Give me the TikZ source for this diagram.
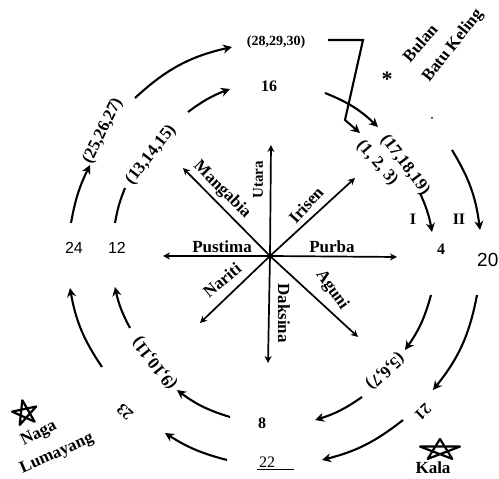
\documentclass[tikz,border=0pt]{standalone}
\usepackage{fontspec}
\setmainfont{Liberation Serif}
\newfontfamily\arialf{Liberation Sans}
\usetikzlibrary{arrows.meta}
\begin{document}
\begin{tikzpicture}[x=1pt,y=1pt,
  ring/.style={line width=2.1pt, -{Stealth[length=9pt,width=9pt]}},
  ringplain/.style={line width=2.1pt},
  dirarrow/.style={line width=1.7pt, -{Stealth[length=7pt,width=7pt]}},
  lab/.style={font=\fontsize{17}{17}\selectfont\bfseries, inner sep=0pt},
  num/.style={font=\fontsize{16}{16}\selectfont\bfseries, inner sep=0pt},
  trip/.style={font=\fontsize{17}{17}\selectfont\bfseries, inner sep=0pt},
  sansnum/.style={font=\fontsize{16}{16}\selectfont\arialf, inner sep=0pt},
  starline/.style={line width=2.2pt, line join=round},
]
\fill[white] (0,0) rectangle (499,479);
\useasboundingbox (0,0) rectangle (499,479);

% ---------- compass ----------
\coordinate (O) at (270,223);
\coordinate (N) at (271,334);
\coordinate (S) at (268,116);
\coordinate (E) at (397,222);
\coordinate (W) at (163,223);
\coordinate (NE) at (355,301);
\coordinate (NW) at (183,311);
\coordinate (SW) at (200,156);
\coordinate (SE) at (358,142);
\foreach \t in {N,S,E,W,NE,NW,SW,SE} \draw[dirarrow] (O) -- (\t);

\node[lab, font=\fontsize{15}{15}\selectfont\bfseries, rotate=90] (utara) at (258,299) {Utara};
\node[lab, rotate=-45] (mangabia) at (222,289) {Mangabia};
\node[lab, rotate=48] (irisen) at (306,274) {Irisen};
\node[lab] (pustima) at (222,232) {Pustima};
\node[lab] (purba) at (332,232) {Purba};
\node[lab, rotate=40] (nariti) at (222,199) {Nariti};
\node[lab, rotate=-90] (daksina) at (284,166) {Daksina};
\node[lab, rotate=-55] (aguni) at (332,189) {Aguni};

% ---------- ring labels ----------
\node[num, font=\fontsize{14}{14}\selectfont\bfseries] (t28) at (276,437) {(28,29,30)};
\node[num] (n16) at (269,393) {16};
\node[trip, rotate=52] (t13) at (151,324) {(13,14,15)};
\node[trip, rotate=64] (t25) at (103,348) {(25,26,27)};
\node[sansnum] (n24) at (74,231) {24};
\node[sansnum] (n12) at (117,231) {12};
\node[font=\fontsize{19}{19}\selectfont\arialf, inner sep=0pt, anchor=west] (n20) at (477,219) {20};
\node[num] (n4) at (441,230) {4};
\node[num] (rI) at (413,260) {I};
\node[num] (rII) at (459,260) {II};
\node[trip, rotate=-53] (t17) at (405,314) {(17,18,19)};
\node[trip, rotate=-49] (t1) at (377,316) {(1, 2, 3)};
\node[trip, rotate=-138] (t5) at (385,108) {(5,6,7)};
\node[num] (n8) at (262,56) {8};
\node[font=\fontsize{16}{16}\selectfont, inner sep=0pt] (n22) at (267,17) {22};
\draw[line width=1pt] ([xshift=-2pt,yshift=-2pt]n22.south west) -- ++(37,0);
\node[num, rotate=-136] (n21) at (423,67) {21};
\node[trip, rotate=128] (t9) at (155,116) {(9,10,11)};
\node[num, rotate=136] (n23) at (125,67) {23};

% ---------- side notes ----------
\node[lab, rotate=27] (naga) at (39,45) {Naga};
\node[lab, rotate=24] (lumayang) at (57,25) {Lumayang};
\draw[starline, shift={(25,66)}, rotate=12] (90:13) -- (234:13) -- (18:13) -- (162:13) -- (306:13) -- cycle;
\draw[starline, shift={(440,29)}, xscale=1.9] (90:11) -- (234:11) -- (18:11) -- (162:11) -- (306:11) -- cycle;
\node[lab] (kala) at (433,11) {Kala};
\node[font=\fontsize{22}{22}\selectfont\bfseries, inner sep=0pt] (ast) at (387,400) {*};
\node[lab, rotate=49] (bulan) at (420,436) {Bulan};
\node[lab, rotate=52] (batu) at (453,433) {Batu Keling};
\fill (432,361) circle (1pt);

% ---------- inner ring ----------
\coordinate (a1s) at (115,256); \coordinate (a1e) at (125,291);
\coordinate (a2s) at (188,367); \coordinate (a2e) at (230,390);
\coordinate (a3s) at (325,386); \coordinate (a3e) at (378,352);
\coordinate (a4s) at (420,286); \coordinate (a4e) at (432,247);
\coordinate (a5s) at (431,184); \coordinate (a5e) at (405,129);
\coordinate (a6s) at (362,82);  \coordinate (a6e) at (315,59);
\coordinate (a7s) at (230,62);  \coordinate (a7e) at (177,89);
\coordinate (a8s) at (130,151); \coordinate (a8e) at (115,192);
\draw[ringplain] (a1s) to[bend left=6] (a1e);
\draw[ring] (a2s) to[bend left=8] (a2e);
\draw[ring] (a3s) to[bend left=11] (a3e);
\draw[ring] (a4s) to[bend left=7] (a4e);
\draw[ring] (a5s) to[bend left=10] (a5e);
\draw[ring] (a6s) to[bend left=9] (a6e);
\draw[ring] (a7s) to[bend left=10] (a7e);
\draw[ring] (a8s) to[bend left=8] (a8e);

% ---------- outer ring ----------
\coordinate (b1s) at (71,256);  \coordinate (b1e) at (90,314);
\coordinate (b2s) at (135,381); \coordinate (b2e) at (232,432);
\coordinate (b3a) at (328,439); \coordinate (b3b) at (363,439);
\coordinate (b3c) at (345,359); \coordinate (b3e) at (360,346);
\coordinate (b4s) at (452,329); \coordinate (b4e) at (480,249);
\coordinate (b5s) at (477,184); \coordinate (b5e) at (433,89);
\coordinate (b6s) at (403,59);  \coordinate (b6e) at (322,19);
\coordinate (b7s) at (227,19);  \coordinate (b7e) at (165,46);
\coordinate (b8s) at (102,112); \coordinate (b8e) at (70,191);
\draw[ring] (b1s) to[bend left=8] (b1e);
\draw[ring] (b2s) to[bend left=15] (b2e);
\draw[ring] (b3a) -- (b3b) -- (b3c) -- (b3e);
\draw[ring] (b4s) to[bend left=12] (b4e);
\draw[ring] (b5s) to[bend left=14] (b5e);
\draw[ring] (b6s) to[bend left=12] (b6e);
\draw[ring] (b7s) to[bend left=9] (b7e);
\draw[ring] (b8s) to[bend left=12] (b8e);
\end{tikzpicture}
\end{document}
